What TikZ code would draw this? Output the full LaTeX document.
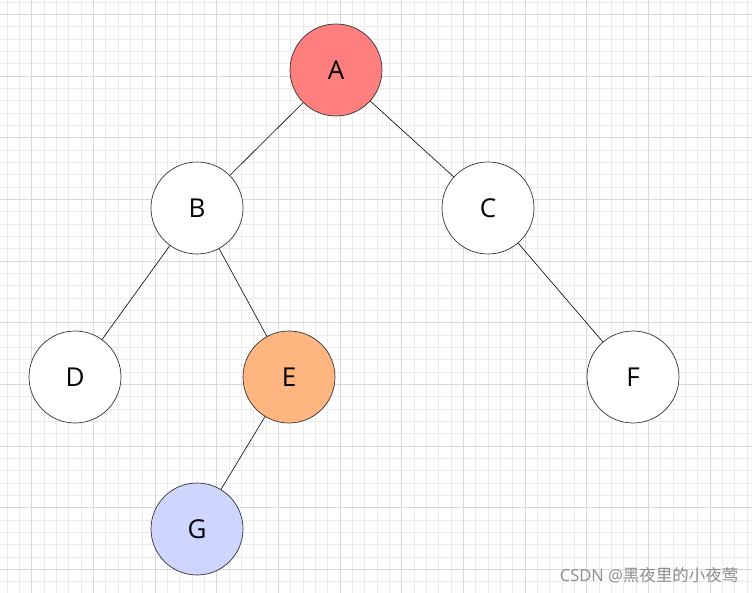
\documentclass[tikz,border=0pt]{standalone}
\usepackage{fontspec}
\setmainfont{Open Sans}
\newfontfamily\cjk{Noto Sans CJK SC}
\usepackage{tikz}
\definecolor{gridminor}{HTML}{EBEBEB}
\definecolor{gridmajor}{HTML}{D8D8D8}
\definecolor{redfill}{HTML}{FF7F7F}
\definecolor{orangefill}{HTML}{FFB57F}
\definecolor{bluefill}{HTML}{CED6FF}
\tikzset{
 vertex/.style={circle,draw=black!80,line width=0.7pt,fill=white,minimum size=92pt,
   inner sep=0pt,font=\fontsize{26}{26}\selectfont},
 branch/.style={line width=0.6pt,black}
}

\begin{document}
\begin{tikzpicture}[x=1pt,y=-1pt]
 \useasboundingbox (0,0) rectangle (752,593);
 \fill[white] (0,0) rectangle (752,593);
 % background grid
 \foreach \i in {-3,...,60} \draw[gridminor,line width=0.7pt] (31.7+12.333*\i,0) -- (31.7+12.333*\i,593);
 \foreach \i in {-2,...,48} \draw[gridminor,line width=0.7pt] (0,14.3+12.333*\i) -- (752,14.3+12.333*\i);
 \foreach \i in {-1,...,12} \draw[gridmajor,line width=0.7pt] (31.7+61.667*\i,0) -- (31.7+61.667*\i,593);
 \foreach \i in {-1,...,10} \draw[gridmajor,line width=0.7pt] (0,14.3+61.667*\i) -- (752,14.3+61.667*\i);
 % tree
 \node[vertex,fill=redfill] (A) at (336,70) {A};
 \node[vertex] (B) at (197,208) {B};
 \node[vertex] (C) at (488,208) {C};
 \node[vertex] (D) at (75,377) {D};
 \node[vertex,fill=orangefill] (E) at (289,377) {E};
 \node[vertex] (F) at (633,377) {F};
 \node[vertex,fill=bluefill] (G) at (197,529) {G};
 \draw[branch] (A) -- (B);
 \draw[branch] (A) -- (C);
 \draw[branch] (B) -- (D);
 \draw[branch] (B) -- (E);
 \draw[branch] (C) -- (F);
 \draw[branch] (E) -- (G);
 % watermark
 \node[anchor=east,text=black!45,font=\fontsize{16.5}{16.5}\selectfont] (mark) at (742,575) {CSDN @{\cjk 黑夜里的小夜莺}};
\end{tikzpicture}
\end{document}
